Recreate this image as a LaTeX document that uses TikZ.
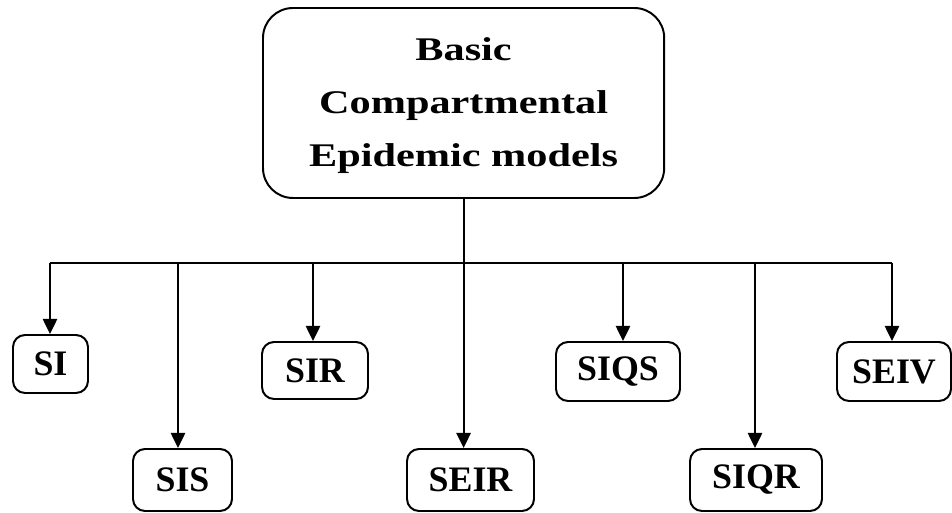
\documentclass[tikz,border=0pt]{standalone}
\usepackage{fontspec}
\setmainfont{Liberation Serif}
\newfontfamily\widefont[FakeStretch=1.28]{Liberation Serif}
\usetikzlibrary{calc}
\usetikzlibrary{arrows.meta}

\begin{document}
\begin{tikzpicture}[
        top/.style={draw=black,rectangle,rounded corners=7.5mm,line width=1.4pt,minimum width=10.03cm,minimum height=4.75cm,font=\widefont\bfseries\fontsize{23.5}{37.5}\selectfont},
        model/.style={draw=black,rectangle,rounded corners=3mm,line width=1.4pt,minimum height=1.5cm,inner sep=0pt,font=\bfseries\fontsize{25.5}{30}\selectfont},
        conn/.style={line width=1.3pt},
        arr/.style={line width=1.3pt,-{Triangle[length=0.38cm,width=0.36cm]}}
      ]
      \useasboundingbox (0,0) rectangle (23.8,-12.825);
      \node[top] (bcem) at (11.59,-2.575) {\raisebox{-3.5pt}{\begin{tabular}{@{}c@{}}Basic\\Compartmental\\Epidemic models\end{tabular}}};
      \node[model,minimum width=1.875cm,minimum height=1.45cm] (si) at (1.2625,-9.1) {SI};
      \node[model,minimum width=2.475cm,minimum height=1.55cm] (sis) at (4.5625,-12.0) {SIS};
      \node[model,minimum width=2.65cm,minimum height=1.425cm] (sir) at (7.875,-9.2625) {SIR};
      \node[model,minimum width=3.175cm,minimum height=1.55cm] (seir) at (11.7625,-12.0) {SEIR};
      \node[model,minimum width=3.1cm,minimum height=1.475cm] (siqs) at (15.45,-9.2875) {SIQS};
      \node[model,minimum width=3.3cm,minimum height=1.55cm] (siqr) at (18.9,-12.0) {SIQR};
      \node[model,minimum width=2.85cm,minimum height=1.475cm] (seiv) at (22.35,-9.2875) {SEIV};
      % Branch points on the bar.
      \coordinate (bsi) at (1.25,-6.575);
      \coordinate (bsis) at (4.45,-6.575);
      \coordinate (bsir) at (7.825,-6.575);
      \coordinate (bsiqs) at (15.575,-6.575);
      \coordinate (bsiqr) at (18.875,-6.575);
      \coordinate (bseiv) at (22.3,-6.575);
      % Connections.
      \draw[conn] (bsi) -- (bseiv);
      \draw[arr] (bcem.south) -- (bcem.south |- seir.north);
      \draw[arr] (bsi) -- (bsi |- si.north);
      \draw[arr] (bsis) -- (bsis |- sis.north);
      \draw[arr] (bsir) -- (bsir |- sir.north);
      \draw[arr] (bsiqs) -- (bsiqs |- siqs.north);
      \draw[arr] (bsiqr) -- (bsiqr |- siqr.north);
      \draw[arr] (bseiv) -- (bseiv |- seiv.north);
    \end{tikzpicture}
\end{document}
